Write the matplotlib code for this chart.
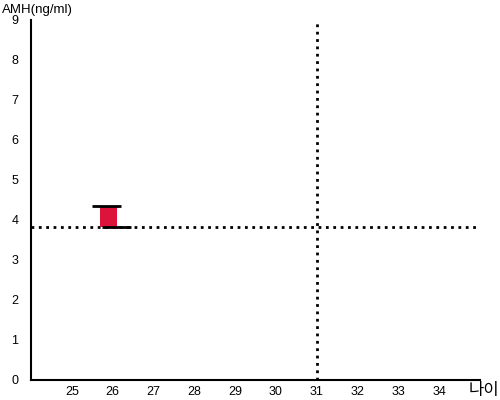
import numpy as np
import matplotlib.pyplot as plt

plt.rcParams['font.family'] = ['Liberation Sans', 'Noto Sans CJK KR', 'DejaVu Sans']

# 데이터
나이 = [26]
amh_하한 = [3.83]
amh_상한 = [4.35]
기준_나이 = 31
기준_amh = 3.83
x_눈금 = [25, 26, 27, 28, 29, 30, 31, 32, 33, 34]
y_눈금 = [0, 1, 2, 3, 4, 5, 6, 7, 8, 9]

fig = plt.figure(figsize=(5, 4), dpi=100)
ax = fig.add_axes([0.062, 0.05, 0.898, 0.90])

for x, lo, hi in zip(나이, amh_하한, amh_상한):
    ax.bar(x - 0.1, hi - lo, width=0.4, bottom=lo, color='#dc143c', zorder=2)
    ax.hlines(hi, x - 0.5, x + 0.2, color='black', lw=2, zorder=3)
    ax.hlines(lo, x - 0.25, x + 0.45, color='black', lw=2, zorder=3)

ax.axhline(기준_amh, color='black', ls=':', lw=2, zorder=1)
ax.axvline(기준_나이, color='black', ls=':', lw=2, zorder=1)

ax.set_xlim(24, 35)
ax.set_ylim(0, 9)
ax.set_xticks(x_눈금)
ax.set_yticks(y_눈금)
ax.tick_params(length=0, labelsize=9, pad=4)
ax.tick_params(axis='y', pad=9)
for s in ['top', 'right']:
    ax.spines[s].set_visible(False)
ax.spines['left'].set_linewidth(1.5)
ax.spines['bottom'].set_linewidth(1.5)

fig.text(0.004, 0.975, 'AMH(ng/ml)', fontsize=9.5, va='center', ha='left')
fig.text(0.998, 0.025, '나이', fontsize=12, va='center', ha='right')

fig.savefig('out.png', dpi=100)
